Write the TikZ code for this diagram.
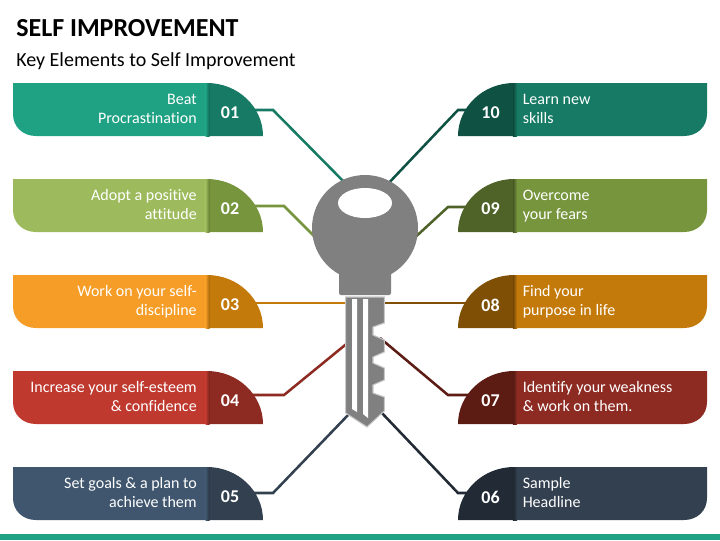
\documentclass[tikz,border=0pt]{standalone}
\usepackage{fontspec}
\setmainfont[Ligatures=NoCommon]{Carlito}
\usetikzlibrary{backgrounds}
\definecolor{t1}{HTML}{1FA283}
\definecolor{t2}{HTML}{167A64}
\definecolor{t3}{HTML}{0F5243}
\definecolor{g1}{HTML}{9DBB5C}
\definecolor{g2}{HTML}{76953C}
\definecolor{g3}{HTML}{4F6228}
\definecolor{o1}{HTML}{F59D26}
\definecolor{o2}{HTML}{C47A0B}
\definecolor{o3}{HTML}{7F4F06}
\definecolor{r1}{HTML}{C0392F}
\definecolor{r2}{HTML}{8D2B23}
\definecolor{r3}{HTML}{5C1C14}
\definecolor{s1}{HTML}{3F566E}
\definecolor{s2}{HTML}{33404F}
\definecolor{s3}{HTML}{212A35}
\definecolor{keygrey}{HTML}{808080}
\definecolor{keyedge}{HTML}{C8C8C8}
\tikzset{
    numlabel/.style={text=white, font=\fontsize{13.5}{14}\selectfont\bfseries, inner sep=0pt},
    cardtext/.style={text=white, font=\fontsize{12}{14.25}\selectfont, inner sep=0pt},
    wire/.style={line width=1.9pt, line join=miter}
}
\begin{document}
\begin{tikzpicture}[x=0.75pt, y=-0.75pt]
    \useasboundingbox (0,0) rectangle (720,540);

    % Title
    \node[anchor=base west, inner sep=0pt, font=\fontsize{19.5}{20}\selectfont\bfseries, text=black] (title) at (16,36.5) {SELF IMPROVEMENT};
    \node[anchor=base west, inner sep=0pt, font=\fontsize{15}{16}\selectfont, text=black] (subtitle) at (16,66) {Key Elements to Self Improvement};
    \fill[t1] (0,534) rectangle (720,540);

    % Left cards
    \foreach \num/\top/\bar/\dark/\lineA/\lineB in {
        01/83/t1/t2/Beat/Procrastination,
        02/179/g1/g2/Adopt a positive/attitude,
        03/275/o1/o2/Work on your self-/discipline,
        04/371/r1/r2/Increase your self-esteem/\& confidence,
        05/467/s1/s2/Set goals \& a plan to/achieve them} {
            \fill[\bar] (208,\top) -- (13,\top) -- (13,\top+31)
                .. controls (13,\top+44) and (23,\top+53) .. (36,\top+53) -- (208,\top+53) -- cycle;
            \fill[\dark] (207,\top) .. controls (238,\top) and (263,\top+24) .. (263,\top+53) -- (207,\top+53) -- cycle;
            \shade[left color=\bar, right color=\dark!85!black] (205.5,\top) rectangle (209.5,\top+53);
            \node[numlabel] (n\num) at (230,\top+30) {\num};
            \node[cardtext, anchor=base east] (a\num) at (197,\top+21.7) {\lineA};
            \node[cardtext, anchor=base east] (b\num) at (197,\top+40.7) {\lineB};
        }

    % Right cards
    \foreach \num/\top/\bar/\dark/\lineA/\lineB in {
        10/83/t2/t3/Learn new/skills,
        09/179/g2/g3/Overcome/your fears,
        08/275/o2/o3/Find your/purpose in life,
        07/371/r2/r3/Identify your weakness/\& work on them.,
        06/467/s2/s3/Sample/Headline} {
            \fill[\bar] (512,\top) -- (707,\top) -- (707,\top+31)
                .. controls (707,\top+44) and (697,\top+53) .. (684,\top+53) -- (512,\top+53) -- cycle;
            \fill[\dark] (514,\top) .. controls (483,\top) and (458,\top+24) .. (458,\top+53) -- (514,\top+53) -- cycle;
            \shade[left color=\dark!90!black, right color=\bar] (513,\top) rectangle (517,\top+53);
            \node[numlabel] (n\num) at (490.5,\top+30) {\num};
            \node[cardtext, anchor=base west] (a\num) at (522.5,\top+21.7) {\lineA};
            \node[cardtext, anchor=base west] (b\num) at (522.5,\top+40.7) {\lineB};
        }

    % Key head
    \fill[keygrey] (365,228) circle[radius=53];
    \fill[keygrey, rounded corners=1.5pt] (339,260) rectangle (391,295);
    \fill[white] (365,203) ellipse[x radius=27, y radius=15];

    % Key blade
    \filldraw[fill=keygrey, draw=keyedge, line width=0.8pt] (345.7,297) -- (384.3,297) -- (384.3,323) -- (373,327) -- (373,335)
        -- (384.3,340) -- (384.3,352) -- (373,357) -- (373,363) -- (384.3,368) -- (384.3,380) -- (373,385)
        -- (373,393) -- (384.3,397) -- (384.3,411) -- (367,427) -- (345.7,413) -- cycle;
    \fill[white] (352,299) -- (357,299) -- (357,412) -- (352,409) -- cycle;
    \fill[white] (363,299) -- (368,299) -- (368,418) -- (363,414) -- cycle;

    % Connectors: start behind the number, bend, end behind the key
    \begin{scope}[on background layer]
        \foreach \num/\col/\sx/\sy/\bx/\ex/\ey in {
            01/t2/235/110/273/352/190,
            02/g2/235/206/284/320/242,
            04/r2/235/395/284/350/341,
            05/s2/235/493/273/350/413,
            10/t3/490/110/458/384/188,
            09/g3/490/207/448/410/242,
            07/r3/490/395/448/380/338,
            06/s3/490/493/458/380/411} {
                \coordinate (s\num) at (\sx,\sy);
                \coordinate (m\num) at (\bx,\sy);
                \coordinate (e\num) at (\ex,\ey);
                \draw[wire, \col] (s\num) -- (m\num) -- (e\num);
            }
        \coordinate (s03) at (235,303);
        \coordinate (e03) at (350,303);
        \coordinate (s08) at (490,303);
        \coordinate (e08) at (380,303);
        \draw[wire, o2] (s03) -- (e03);
        \draw[wire, o3] (s08) -- (e08);
    \end{scope}
\end{tikzpicture}
\end{document}
